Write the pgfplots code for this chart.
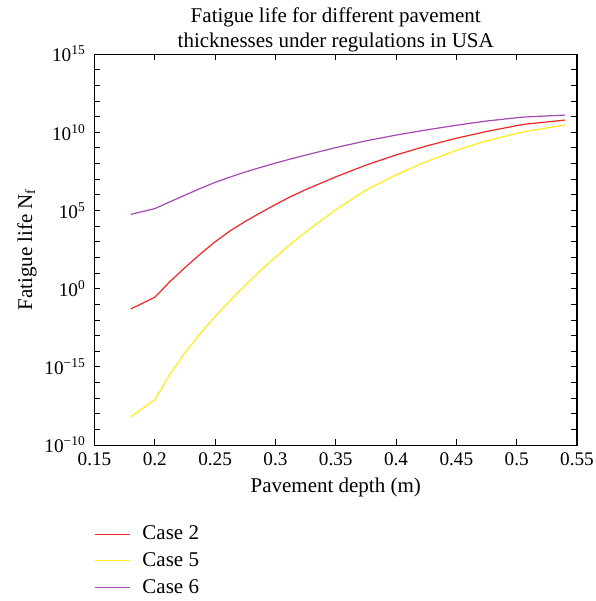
\documentclass[border=0pt]{standalone}
\usepackage{fontspec}
\setmainfont{Liberation Serif}
\usepackage{pgfplots}
\pgfplotsset{compat=1.18}
\definecolor{cred}{RGB}{240,40,40}
\definecolor{cyel}{RGB}{255,235,30}
\definecolor{cpur}{RGB}{165,75,180}
\newcommand{\ff}{\fontsize{12}{14.3}\selectfont}
\newcommand{\ft}{\fontsize{11}{13}\selectfont}
\begin{document}
\begin{tikzpicture}
\useasboundingbox (-54pt,-89.1pt) rectangle (286pt,254.3pt);
\begin{axis}[
  at={(0,0)}, anchor=south west,
  scale only axis, width=275.7pt, height=223.4pt,
  ymode=log, xmin=0.15, xmax=0.55, ymin=1e-10, ymax=1e15,
  xtick={0.15,0.2,0.25,0.3,0.35,0.4,0.45,0.5,0.55},
  xticklabels={0.15,0.2,0.25,0.3,0.35,0.4,0.45,0.5,0.55},
  ytick={1e-10,1e-5,1,1e5,1e10,1e15},
  yticklabels={10\textsuperscript{−10},10\textsuperscript{−15},10\textsuperscript{0},10\textsuperscript{5},10\textsuperscript{10},10\textsuperscript{15}},
  minor ytick={1e-9,1e-8,1e-7,1e-6,1e-4,1e-3,1e-2,1e-1,1e1,1e2,1e3,1e4,1e6,1e7,1e8,1e9,1e11,1e12,1e13,1e14},
  tick align=inside,
  major tick length=3.4pt, minor tick length=3.4pt,
  tick style={black, line width=0.5pt},
  axis line style={line width=0.6pt},
  every tick label/.append style={font=\ft},
  xticklabel style={yshift=-1pt},
  yticklabel style={xshift=-1.5pt},
  title={Fatigue life for different pavement\\thicknesses under regulations in USA},
  title style={align=center, font=\ff, at={(axis description cs:0.5,1)}, anchor=south, inner sep=0pt, yshift=-5pt},
  xlabel={Pavement depth (m)},
  xlabel style={font=\ff, at={(axis description cs:0.5,-0.1075)}, anchor=center},
  ylabel={Fatigue life N\textsubscript{f}},
  ylabel style={font=\ff, at={(axis description cs:-0.14,0.5)}, anchor=center},
  legend style={at={(axis description cs:0,0)}, anchor=north west, yshift=-44pt, draw=none, fill=none, inner sep=0pt, row sep=1.8pt, font=\ff, cells={anchor=west}},
  legend image code/.code={\draw[#1,line width=0.7pt] (0pt,0pt) -- (19.5pt,0pt); \path (24.5pt,0pt);},
]
\addplot[cred, line width=0.7pt] coordinates {
(0.18,5.012e-2) (0.2,2.818e-1) (0.2125,2.818) (0.225,2.239e1) (0.2375,1.585e2) (0.25,1.0e3) (0.2625,5.012e3) (0.275,1.995e4) (0.2875,7.079e4) (0.3,2.399e5) (0.3125,7.586e5) (0.325,2.138e6) (0.35,1.413e7) (0.375,7.943e7) (0.4,3.548e8) (0.425,1.318e9) (0.45,4.169e9) (0.475,1.122e10) (0.505,3.162e10) (0.54,6.026e10)
};
\addlegendentry{Case 2}
\addplot[cyel, line width=0.7pt] coordinates {
(0.18,6.310e-9) (0.2,7.943e-8) (0.2125,3.311e-6) (0.225,7.943e-5) (0.2375,1.318e-3) (0.25,1.660e-2) (0.2625,1.778e-1) (0.275,1.660) (0.2875,1.413e1) (0.3,1.047e2) (0.3125,7.079e2) (0.325,4.169e3) (0.35,1.122e5) (0.375,1.995e6) (0.4,1.905e7) (0.425,1.318e8) (0.45,7.079e8) (0.475,2.818e9) (0.505,1.047e10) (0.54,2.884e10)
};
\addlegendentry{Case 5}
\addplot[cpur, line width=0.7pt] coordinates {
(0.18,5.623e4) (0.2,1.318e5) (0.2125,3.548e5) (0.225,9.550e5) (0.2375,2.512e6) (0.25,6.310e6) (0.2625,1.380e7) (0.275,2.884e7) (0.2875,5.623e7) (0.3,1.072e8) (0.3125,1.950e8) (0.325,3.467e8) (0.35,1.047e9) (0.375,2.818e9) (0.4,6.607e9) (0.425,1.413e10) (0.45,2.818e10) (0.475,5.248e10) (0.505,9.333e10) (0.54,1.259e11)
};
\addlegendentry{Case 6}
\end{axis}
\end{tikzpicture}
\end{document}
